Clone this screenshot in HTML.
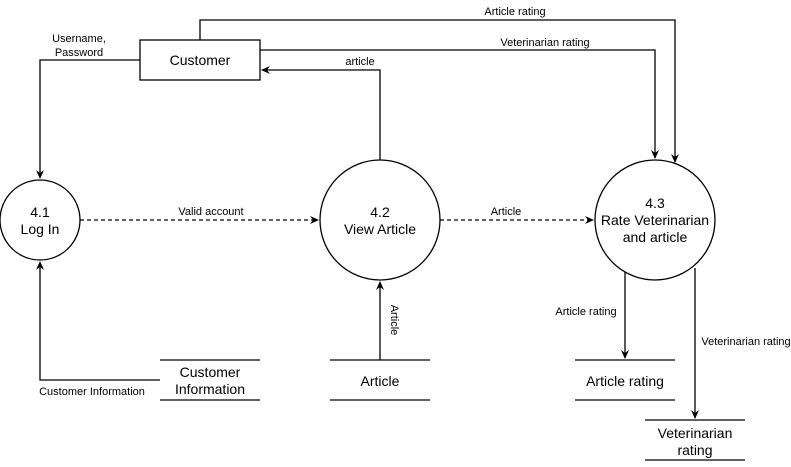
<!DOCTYPE html>
<html><head><style>body{margin:0;background:#fff}</style></head><body>
<svg width="791" height="462" xmlns="http://www.w3.org/2000/svg" font-family="Liberation Sans, Arial, sans-serif">
<defs><marker id="a" markerWidth="10" markerHeight="10" refX="8" refY="5" orient="auto" markerUnits="userSpaceOnUse"><path d="M0,1 L9,5 L0,9 L3,5 Z" fill="#000"/></marker></defs>
<g fill="none" stroke="#000" stroke-width="1.3">
<rect x="140" y="40" width="120" height="40" fill="#fff"/>
<circle cx="40" cy="220" r="40"/>
<circle cx="380" cy="220" r="60"/>
<circle cx="655" cy="220" r="60"/>
<path d="M140,60 H40 V178" marker-end="url(#a)"/>
<path d="M200,40 V20 H675 V162" marker-end="url(#a)"/>
<path d="M260,50 H655 V158" marker-end="url(#a)"/>
<path d="M380,160 V70 H262" marker-end="url(#a)"/>
<path d="M80,220 H318" stroke-dasharray="4,3" marker-end="url(#a)"/>
<path d="M440,220 H593" stroke-dasharray="4,3" marker-end="url(#a)"/>
<path d="M160,360 H260 M160,400 H260"/>
<path d="M330,360 H430 M330,400 H430"/>
<path d="M575,360 H675 M575,400 H675"/>
<path d="M645,420 H745 M645,460 H745"/>
<path d="M160,380 H40 V262" marker-end="url(#a)"/>
<path d="M380,360 V282" marker-end="url(#a)"/>
<path d="M625,272 V358" marker-end="url(#a)"/>
<path d="M695,268 V418" marker-end="url(#a)"/>
</g>
<g font-size="14" text-anchor="middle" fill="#000">
<text x="200" y="65">Customer</text>
<text x="40" y="217">4.1</text><text x="40" y="234">Log In</text>
<text x="380" y="217">4.2</text><text x="380" y="234">View Article</text>
<text x="655" y="208">4.3</text><text x="655" y="225">Rate Veterinarian</text><text x="655" y="242">and article</text>
<text x="210" y="377">Customer</text><text x="210" y="394">Information</text>
<text x="380" y="386">Article</text>
<text x="625" y="386">Article rating</text>
<text x="695" y="438">Veterinarian</text><text x="695" y="455">rating</text>
</g>
<g font-size="11" text-anchor="middle" fill="#000">
<text x="79" y="42">Username,</text><text x="79" y="56">Password</text>
<text x="515" y="15">Article rating</text>
<text x="545" y="46">Veterinarian rating</text>
<text x="360" y="65">article</text>
<text x="211" y="215">Valid account</text>
<text x="506" y="215">Article</text>
<text x="92" y="395">Customer Information</text>
<text x="586" y="315">Article rating</text>
<text x="746" y="345">Veterinarian rating</text>
<text x="0" y="0" transform="translate(391,320) rotate(90)">Article</text>
</g>
</svg>
</body></html>
